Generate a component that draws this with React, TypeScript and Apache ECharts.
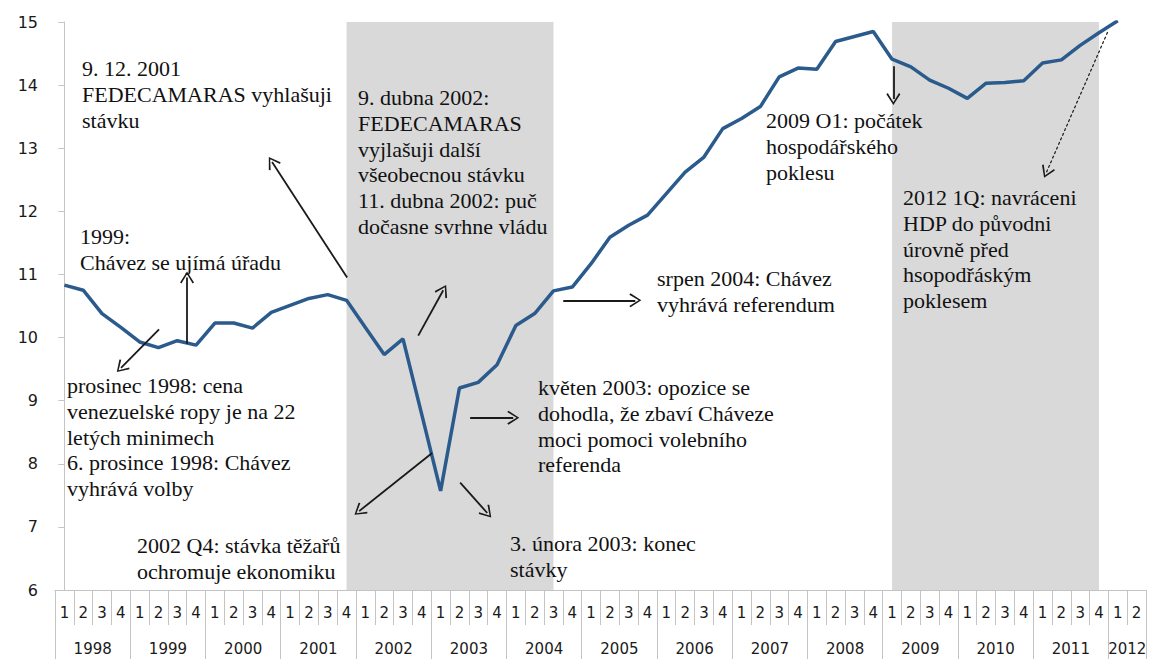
import React, { useEffect, useRef } from 'react';
import * as echarts from 'echarts';

const years = [1998, 1999, 2000, 2001, 2002, 2003, 2004, 2005, 2006, 2007, 2008, 2009, 2010, 2011, 2012];
const quarterLabels = ['1', '2', '3', '4'];
const categories: string[] = [];
years.forEach((y) => {
  const qs = y === 2012 ? quarterLabels.slice(0, 2) : quarterLabels;
  qs.forEach((q) => categories.push(`${y} Q${q}`));
});

const gdp: (number | null)[] = [
  10.83, 10.75, 10.38, 10.16,
  9.93, 9.84, 9.95, 9.88,
  10.23, 10.23, 10.15, 10.40,
  10.51, 10.62, 10.68, 10.59,
  10.16, 9.73, 9.98, 8.78,
  7.57, 9.20, 9.29, 9.57,
  10.19, 10.38, 10.74, 10.80,
  11.17, 11.59, 11.78, 11.94,
  12.28, 12.62, 12.86, 13.31,
  13.47, 13.66, 14.13, 14.27,
  14.25, 14.69, 14.77, 14.85,
  14.41, 14.29, 14.08, 13.95,
  13.79, 14.03, 14.04, 14.07,
  14.35, 14.40, 14.63, 14.83,
  15.02, null,
];

// shaded periods: [from quarter index, to quarter index]
const shadedPeriods = [
  [15, 26],
  [44, 55],
];

// arrows: [x1, y1, x2, y2] in (quarter index, value) units; x2,y2 is the head
const arrows: number[][] = [
  [15.03, 10.95, 11.04, 12.78],
  [6.52, 9.9, 6.52, 10.95],
  [5.03, 10.13, 3.01, 9.52],
  [18.81, 10.03, 20.14, 10.75],
  [19.55, 8.17, 15.67, 7.25],
  [21.04, 7.7, 22.48, 7.22],
  [21.57, 8.73, 23.86, 8.73],
  [26.52, 10.59, 30.35, 10.59],
  [44.07, 14.3, 44.07, 13.78],
];
const dashedArrows: number[][] = [[55.46, 14.84, 52.21, 12.62]];

const notes: { lines: string[]; left: number; top: number }[] = [
  { lines: ['9. 12. 2001', 'FEDECAMARAS vyhlašuji', 'stávku'], left: 82, top: 55 },
  {
    lines: [
      '9. dubna 2002:',
      'FEDECAMARAS',
      'vyjlašuji další',
      'všeobecnou stávku',
      '11. dubna 2002: puč',
      'dočasne svrhne vládu',
    ],
    left: 358,
    top: 84,
  },
  { lines: ['1999:', 'Chávez se ujímá úřadu'], left: 80, top: 223 },
  {
    lines: [
      'prosinec 1998: cena',
      'venezuelské ropy je na 22',
      'letých minimech',
      '6. prosince 1998: Chávez',
      'vyhrává volby',
    ],
    left: 67,
    top: 372,
  },
  { lines: ['2002 Q4: stávka těžařů', 'ochromuje ekonomiku'], left: 137, top: 532 },
  { lines: ['3. února 2003: konec', 'stávky'], left: 510, top: 530 },
  {
    lines: ['květen 2003: opozice se', 'dohodla, že zbaví Cháveze', 'moci pomoci volebního', 'referenda'],
    left: 538,
    top: 374,
  },
  { lines: ['srpen 2004: Chávez', 'vyhrává referendum'], left: 657, top: 265 },
  { lines: ['2009 O1: počátek', 'hospodářského', 'poklesu'], left: 766, top: 107 },
  {
    lines: ['2012 1Q: navráceni', 'HDP do původni', 'úrovně před', 'hsopodřáským', 'poklesem'],
    left: 903,
    top: 184,
  },
];

const chevron = 'path://M5,0 L10,9 L9,10 L5,2.2 L1,10 L0,9 Z';
const LINE_H = 25.8;

export default function App() {
  const ref = useRef<HTMLDivElement>(null);
  useEffect(() => {
    document.body.style.margin = '0';
    const chart = echarts.init(ref.current!, undefined, { renderer: 'svg' });
    const axisGrey = '#c4c4c4';
    const markLineData: any[] = [];
    arrows.forEach((a) =>
      markLineData.push([
        { coord: [a[0], a[1]], lineStyle: { width: 1.8, color: '#1a1a1a', type: 'solid' } },
        { coord: [a[2], a[3]] },
      ])
    );
    dashedArrows.forEach((a) =>
      markLineData.push([
        { coord: [a[0], a[1]], lineStyle: { width: 1.2, color: '#1a1a1a', type: [3, 2] } },
        { coord: [a[2], a[3]] },
      ])
    );
    const graphics: any[] = [];
    notes.forEach((n) =>
      n.lines.forEach((line, i) =>
        graphics.push({
          type: 'text',
          left: n.left,
          top: Math.round(n.top + 2 + i * LINE_H),
          z: 10,
          silent: true,
          style: {
            text: line,
            fontFamily: 'Liberation Serif',
            fontSize: 22,
            fill: '#111',
          },
        })
      )
    );
    chart.setOption({
      animation: false,
      grid: { left: 55, right: 7, top: 22, bottom: 69, containLabel: false },
      xAxis: [
        {
          type: 'category',
          data: categories,
          boundaryGap: true,
          axisLine: { show: true, lineStyle: { color: axisGrey, width: 1 } },
          axisTick: { show: true, interval: 0, length: 35, lineStyle: { color: axisGrey } },
          axisLabel: {
            interval: 0,
            margin: 15,
            formatter: (v: string) => v.split('Q')[1],
            fontFamily: 'DejaVu Sans',
            fontSize: 15,
            color: '#1a1a1a',
          },
          splitLine: { show: false },
        },
        {
          type: 'category',
          data: categories,
          boundaryGap: true,
          position: 'bottom',
          axisLine: { show: false },
          axisTick: {
            show: true,
            interval: (i: number) => i % 4 === 0,
            length: 70,
            lineStyle: { color: axisGrey },
          },
          axisLabel: {
            interval: (i: number) => i % 4 === 1 || i === 56,
            margin: 51,
            padding: [0, 0, 0, 19],
            formatter: (v: string) => v.split(' ')[0],
            fontFamily: 'DejaVu Sans',
            fontSize: 15,
            color: '#1a1a1a',
          },
          splitLine: { show: false },
        },
        {
          type: 'value',
          min: -0.5,
          max: 57.5,
          show: false,
          splitLine: { show: false },
        },
      ],
      yAxis: {
        type: 'value',
        min: 6,
        max: 15,
        interval: 1,
        axisLine: { show: true, lineStyle: { color: axisGrey } },
        axisTick: { show: true, length: 6, lineStyle: { color: axisGrey } },
        axisLabel: { fontFamily: 'DejaVu Sans', fontSize: 16, color: '#1a1a1a', margin: 17 },
        splitLine: { show: false },
      },
      graphic: graphics,
      series: [
        {
          type: 'line',
          name: 'annotations',
          xAxisIndex: 2,
          yAxisIndex: 0,
          data: [],
          clip: false,
          silent: true,
          z: 1,
          markArea: {
            silent: true,
            itemStyle: { color: '#d9d9d9' },
            data: shadedPeriods.map((p) => [
              { coord: [p[0], 6] },
              { coord: [p[1], 15.08] },
            ]),
          },
          markLine: {
            silent: true,
            symbol: ['none', chevron],
            symbolSize: [14, 12],
            label: { show: false },
            data: markLineData,
          },
        },
        {
          type: 'line',
          name: 'HDP',
          xAxisIndex: 0,
          yAxisIndex: 0,
          data: gdp,
          z: 3,
          showSymbol: false,
          symbol: 'none',
          lineStyle: { color: '#2a5b8c', width: 3.5 },
          connectNulls: false,
        },
      ],
    });
    return () => chart.dispose();
  }, []);
  return <div ref={ref} style={{ width: 1153, height: 659 }} />;
}
